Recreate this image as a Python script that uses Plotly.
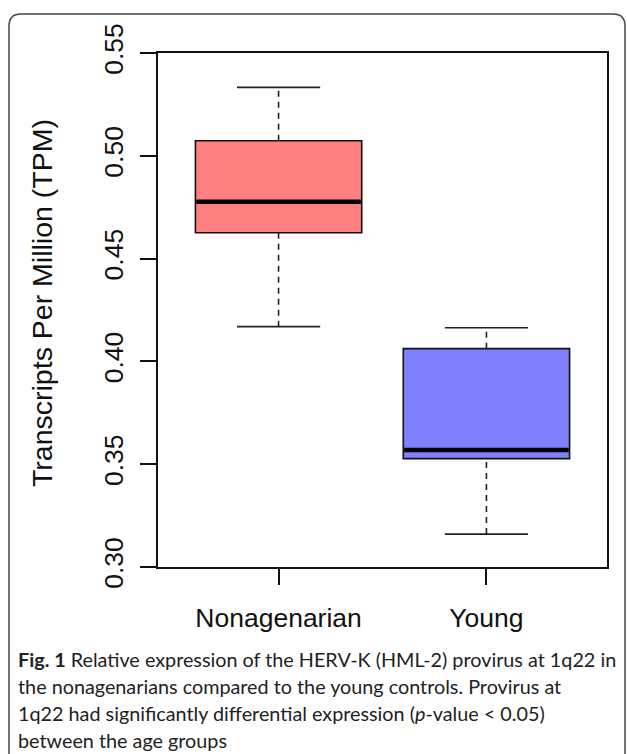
import plotly.graph_objects as go

# ---- data ----
groups = ["Nonagenarian", "Young"]
positions = [1, 2]
lower_whisker = [0.4169, 0.3160]
q1 = [0.4626, 0.3527]
median = [0.4777, 0.3569]
q3 = [0.5073, 0.4062]
upper_whisker = [0.5333, 0.4164]
fill_colors = ["#FF8080", "#8080FF"]
y_ticks = [0.30, 0.35, 0.40, 0.45, 0.50, 0.55]
y_tick_labels = ["0.30", "0.35", "0.40", "0.45", "0.50", "0.55"]
y_title = "Transcripts Per Million (TPM)"
caption_lines = [
    "<b>Fig. 1</b> Relative expression of the HERV-K (HML-2) provirus at 1q22 in",
    "the nonagenarians compared to the young controls. Provirus at",
    "1q22 had significantly differential expression (<i>p</i>-value &lt; 0.05)",
    "between the age groups",
]

BOX_W = 0.8
STAPLE_W = 0.4

W, H = 627, 754
L, R, T, B = 158, 20, 53, 187
PW, PH = W - L - R, H - T - B


def px_x(px):
    return (px - L) / PW


def px_y(py):
    return (H - B - py) / PH


fig = go.Figure()

for i, g in enumerate(groups):
    p = positions[i]
    # box body
    fig.add_trace(go.Box(
        x=[p], q1=[q1[i]], median=[median[i]], q3=[q3[i]],
        lowerfence=[q1[i]], upperfence=[q3[i]],
        width=BOX_W, fillcolor=fill_colors[i],
        line=dict(color="#111111", width=1.6),
        name=g, showlegend=False, hoverinfo="skip", boxpoints=False,
    ))
    # dashed whiskers
    for a, b in [(q3[i], upper_whisker[i]), (lower_whisker[i], q1[i])]:
        fig.add_trace(go.Scatter(
            x=[p, p], y=[a, b], mode="lines",
            line=dict(color="#222222", width=1.6, dash="6px,5px"),
            showlegend=False, hoverinfo="skip",
        ))
    # staples
    for v in [upper_whisker[i], lower_whisker[i]]:
        fig.add_trace(go.Scatter(
            x=[p - STAPLE_W / 2, p + STAPLE_W / 2], y=[v, v], mode="lines",
            line=dict(color="#222222", width=1.6),
            showlegend=False, hoverinfo="skip",
        ))
    # thick median
    fig.add_trace(go.Scatter(
        x=[p - BOX_W / 2 + 0.005, p + BOX_W / 2 - 0.005], y=[median[i], median[i]],
        mode="lines", line=dict(color="#000000", width=4.5),
        showlegend=False, hoverinfo="skip",
    ))

axis_font = dict(family="Liberation Sans, Arial, sans-serif", size=26.5, color="#111111")

fig.update_xaxes(
    range=[0.42, 2.58], tickvals=positions, ticktext=groups,
    ticks="outside", ticklen=16, tickwidth=1.6, tickcolor="#111111",
    showline=True, mirror=True, linecolor="#111111", linewidth=1.6,
    showgrid=False, zeroline=False, tickfont=axis_font, ticklabelstandoff=10,
)
fig.update_yaxes(
    range=[0.30, 0.55], tickvals=y_ticks, ticktext=y_tick_labels, tickangle=-90,
    ticks="outside", ticklen=16, tickwidth=1.6, tickcolor="#111111",
    showline=True, mirror=True, linecolor="#111111", linewidth=1.6,
    showgrid=False, zeroline=False, tickfont=axis_font, ticklabelstandoff=7,
)

annotations = [dict(
    text=y_title, xref="paper", yref="paper", x=px_x(42), y=px_y(303),
    xanchor="center", yanchor="middle", textangle=-90, showarrow=False,
    font=dict(family="Liberation Sans, Arial, sans-serif", size=28.5, color="#111111"),
)]
cap_y = [659, 686, 713, 740]
for line, cy in zip(caption_lines, cap_y):
    annotations.append(dict(
        text=line, xref="paper", yref="paper", x=px_x(16), y=px_y(cy),
        xanchor="left", yanchor="middle", showarrow=False,
        font=dict(family="Lato, Noto Sans, sans-serif", size=19.8, color="#222222"),
    ))

# rounded outer frame
fl, fr, ft, fb, rad = 9, 625, 14, 780, 12
path = (
    f"M {px_x(fl)} {px_y(fb)} "
    f"L {px_x(fl)} {px_y(ft + rad)} "
    f"Q {px_x(fl)} {px_y(ft)} {px_x(fl + rad)} {px_y(ft)} "
    f"L {px_x(fr - rad)} {px_y(ft)} "
    f"Q {px_x(fr)} {px_y(ft)} {px_x(fr)} {px_y(ft + rad)} "
    f"L {px_x(fr)} {px_y(fb)}"
)
shapes = [dict(type="path", xref="paper", yref="paper", path=path,
               line=dict(color="#444444", width=1.5), layer="above")]

fig.update_layout(
    width=W, height=H, margin=dict(l=L, r=R, t=T, b=B, autoexpand=False),
    paper_bgcolor="white", plot_bgcolor="white",
    annotations=annotations, shapes=shapes, showlegend=False,
)

fig.write_html(
    "out.html",
    config={"displayModeBar": False},
    post_script="document.body.style.margin='0';document.body.style.overflow='hidden';",
)
